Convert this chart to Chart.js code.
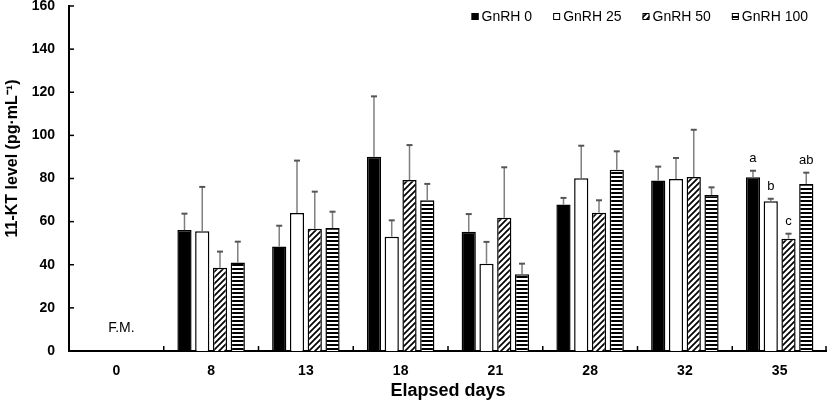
<!DOCTYPE html>
<html>
<head>
<meta charset="utf-8">
<script src="https://cdn.jsdelivr.net/npm/chart.js@4.4.1/dist/chart.umd.min.js"></script>
<style>
  html, body { margin: 0; padding: 0; background: #fff; }
  #wrap { width: 827px; height: 402px; position: relative; }
</style>
</head>
<body>
<div id="wrap"><canvas id="chart"></canvas></div>
<script>
// Elapsed days (categories)
const days = ["0", "8", "13", "18", "21", "28", "32", "35"];

// Mean 11-KT levels per group (pg/mL)
const gnrh0 = [null, 56.1, 48.5, 90.1, 55.3, 67.9, 79.1, 80.6];
const gnrh25 = [null, 55.5, 64.0, 53.0, 40.5, 80.1, 79.8, 69.4];
const gnrh50 = [null, 38.6, 56.7, 79.3, 61.8, 64.1, 80.7, 52.1];
const gnrh100 = [null, 41.1, 57.0, 69.9, 35.6, 84.1, 72.4, 77.5];

// Upper error bars (SD)
const sd0 = [null, 7.6, 9.6, 28.0, 8.2, 3.1, 6.4, 3.0];
const sd25 = [null, 20.6, 24.3, 7.6, 10.1, 15.1, 9.7, 1.2];
const sd50 = [null, 7.5, 17.2, 16.2, 23.4, 5.8, 21.9, 2.3];
const sd100 = [null, 9.6, 7.6, 7.6, 4.9, 8.5, 3.5, 5.2];

// Significance letters on the last day
const lastDayLetters = ["a", "b", "c", "ab"];
const yTicks = [0, 20, 40, 60, 80, 100, 120, 140, 160];

const FONT = "'Liberation Sans', Arial, sans-serif";

function hatchPattern() {
  const c = document.createElement("canvas");
  c.width = 6;
  c.height = 6;
  const g = c.getContext("2d");
  g.fillStyle = "#fff";
  g.fillRect(0, 0, 6, 6);
  g.strokeStyle = "#000";
  g.lineWidth = 1.7;
  g.beginPath();
  g.moveTo(-1, 7);
  g.lineTo(7, -1);
  g.moveTo(-1, 1);
  g.lineTo(1, -1);
  g.moveTo(5, 7);
  g.lineTo(7, 5);
  g.stroke();
  return g.createPattern(c, "repeat");
}

function stripePattern() {
  const c = document.createElement("canvas");
  c.width = 4;
  c.height = 4;
  const g = c.getContext("2d");
  g.fillStyle = "#fff";
  g.fillRect(0, 0, 4, 4);
  g.fillStyle = "#000";
  g.fillRect(0, 0, 4, 2);
  return g.createPattern(c, "repeat");
}

const sds = [sd0, sd25, sd50, sd100];

// error bars, letters, inward tick marks, F.M. note, legend
const extras = {
  id: "extras",
  afterDatasetsDraw(chart) {
    const ctx = chart.ctx;
    const xs = chart.scales.x;
    const ys = chart.scales.y;
    const area = chart.chartArea;
    ctx.save();

    chart.data.datasets.forEach((ds, di) => {
      const meta = chart.getDatasetMeta(di);
      meta.data.forEach((bar, i) => {
        const v = ds.data[i];
        if (v == null) return;
        const yTop = ys.getPixelForValue(v + sds[di][i]);
        ctx.strokeStyle = "#7f7f7f";
        ctx.lineWidth = 1.5;
        ctx.beginPath();
        ctx.moveTo(bar.x, bar.y);
        ctx.lineTo(bar.x, yTop);
        ctx.stroke();
        ctx.strokeStyle = "#555";
        ctx.lineWidth = 2;
        ctx.beginPath();
        ctx.moveTo(bar.x - 3, yTop);
        ctx.lineTo(bar.x + 3, yTop);
        ctx.stroke();

        if (i === days.length - 1) {
          ctx.fillStyle = "#000";
          ctx.font = "13px " + FONT;
          ctx.textAlign = "center";
          ctx.textBaseline = "middle";
          ctx.fillText(lastDayLetters[di], bar.x, yTop - 12);
        }
      });
    });

    // ticks pointing into the plot
    ctx.strokeStyle = "#000";
    ctx.lineWidth = 1.5;
    for (let i = 1; i <= days.length; i++) {
      let x;
      if (i === days.length) x = area.right - 1;
      else x = (xs.getPixelForValue(i - 1) + xs.getPixelForValue(i)) / 2;
      ctx.beginPath();
      ctx.moveTo(x, area.bottom);
      ctx.lineTo(x, area.bottom - 5);
      ctx.stroke();
    }
    yTicks.forEach((t) => {
      const y = ys.getPixelForValue(t);
      ctx.beginPath();
      ctx.moveTo(area.left, y);
      ctx.lineTo(area.left + 5, y);
      ctx.stroke();
    });

    // no-data note for day 0
    ctx.fillStyle = "#000";
    ctx.font = "14px " + FONT;
    ctx.textAlign = "center";
    ctx.textBaseline = "middle";
    ctx.fillText("F.M.", xs.getPixelForValue(0) + 5, ys.getPixelForValue(10.5));

    // legend, one row at the top right
    ctx.font = "14px " + FONT;
    ctx.textAlign = "left";
    const box = 7;
    const gap = 3;
    const spacing = 21;
    const widths = chart.data.datasets.map((ds) => ctx.measureText(ds.label).width);
    let total = 0;
    widths.forEach((w, i) => {
      total += box + gap + w + (i < widths.length - 1 ? spacing : 0);
    });
    let x = area.right - 19 - total;
    const yMid = 17;
    chart.data.datasets.forEach((ds, i) => {
      ctx.fillStyle = ds.backgroundColor;
      ctx.fillRect(x, yMid - 4, box, box);
      ctx.strokeStyle = "#000";
      ctx.lineWidth = 1;
      ctx.strokeRect(x + 0.5, yMid - 3.5, box - 1, box - 1);
      ctx.fillStyle = "#000";
      ctx.fillText(ds.label, x + box + gap, yMid);
      x += box + gap + widths[i] + spacing;
    });

    ctx.restore();
  },
};

const hatch = hatchPattern();
const stripes = stripePattern();

new Chart(document.getElementById("chart"), {
  type: "bar",
  data: {
    labels: days,
    datasets: [
      { label: "GnRH 0", data: gnrh0, backgroundColor: "#000" },
      { label: "GnRH 25", data: gnrh25, backgroundColor: "#fff" },
      { label: "GnRH 50", data: gnrh50, backgroundColor: hatch },
      { label: "GnRH 100", data: gnrh100, backgroundColor: stripes },
    ].map((d) => Object.assign(d, { borderColor: "#000", borderWidth: 1.5 })),
  },
  options: {
    responsive: true,
    maintainAspectRatio: false,
    animation: false,
    layout: { padding: { left: 0, right: 0, top: 0, bottom: 0 } },
    datasets: {
      bar: { categoryPercentage: 0.75, barPercentage: 0.8 },
    },
    scales: {
      x: {
        grid: { display: false, drawTicks: false },
        border: { color: "#000", width: 2 },
        ticks: {
          color: "#000",
          padding: 12,
          font: { family: FONT, size: 14, weight: "bold" },
        },
        title: {
          display: true,
          text: "Elapsed days",
          color: "#000",
          padding: { top: 0, bottom: 0 },
          font: { family: FONT, size: 18, weight: "bold" },
        },
        afterFit(scale) {
          scale.height = 51;
        },
      },
      y: {
        min: 0,
        max: 160,
        grid: { display: false, drawTicks: false },
        border: { color: "#000", width: 2 },
        ticks: {
          stepSize: 20,
          color: "#000",
          padding: 14,
          font: { family: FONT, size: 14, weight: "bold" },
        },
        title: {
          display: true,
          // leading spaces nudge the title up like in the original figure
          text: "         11-KT level (pg·mL⁻¹)",
          color: "#000",
          padding: { top: 3, bottom: 0 },
          font: { family: FONT, size: 16, weight: "bold" },
        },
        afterFit(scale) {
          scale.width = 69;
          scale.paddingTop = 6;
          scale.paddingBottom = 0;
        },
      },
    },
    plugins: {
      legend: { display: false },
      tooltip: { enabled: false },
    },
  },
  plugins: [extras],
});
</script>
</body>
</html>
